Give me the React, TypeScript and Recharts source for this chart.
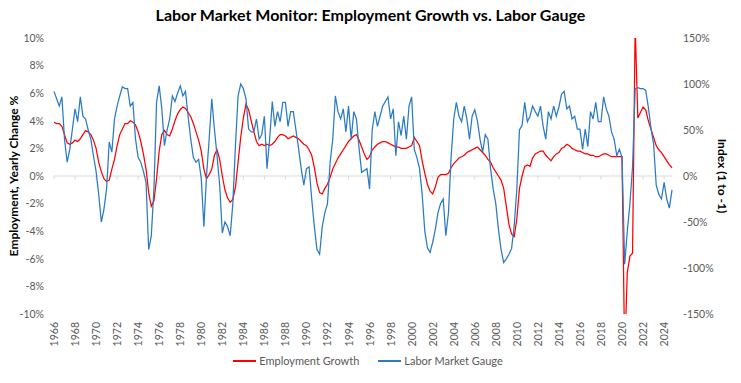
import { LineChart, Line, XAxis, YAxis, ReferenceLine } from 'recharts';

const FONT = 'Lato, "Open Sans", sans-serif';
const GRAY = '#595959';
const RED = '#ff0000';
const BLUE = '#2a7bc4';

const START_YEAR = 1966;
const yearTicks = [
  1966, 1968, 1970, 1972, 1974, 1976, 1978, 1980, 1982, 1984, 1986, 1988, 1990, 1992, 1994,
  1996, 1998, 2000, 2002, 2004, 2006, 2008, 2010, 2012, 2014, 2016, 2018, 2020, 2022, 2024,
];
const leftTicks = [-10, -8, -6, -4, -2, 0, 2, 4, 6, 8, 10];
const rightTicks = [-150, -100, -50, 0, 50, 100, 150];

// quarterly readings, 1966 Q1 .. 2024 Q4 — yearly % change in employment
const employmentGrowth = [
  3.9, 3.8, 3.8, 3.6, // 1966
  3.0, 2.4, 2.3, 2.4,
  2.6, 2.5, 2.7, 3.0,
  3.3, 3.2, 3.0, 2.6,
  2.0, 1.0, 0.3, -0.2, // 1970
  -0.4, -0.3, 0.5, 1.2,
  2.2, 3.0, 3.4, 3.8,
  3.8, 4.0, 3.9, 3.7,
  3.2, 2.5, 1.6, 0.5,
  -1.2, -2.2, -1.8, -0.2, // 1975
  1.8, 3.0, 3.3, 3.0,
  2.9, 3.4, 4.0, 4.5,
  4.8, 5.0, 4.9, 4.6,
  4.3, 3.8, 3.2, 2.6,
  1.8, 0.5, -0.2, 0.1, // 1980
  0.5, 1.5, 1.9, 1.2,
  0.0, -1.0, -1.6, -1.9,
  -1.7, -0.8, 1.0, 2.8,
  4.2, 5.2, 4.8, 4.0,
  3.2, 2.5, 2.2, 2.3, // 1985
  2.2, 2.3, 2.2, 2.3,
  2.5, 2.8, 3.0, 3.0,
  2.9, 2.7, 2.8, 2.9,
  2.8, 2.7, 2.5, 2.3,
  2.2, 1.9, 1.5, 0.6, // 1990
  -0.5, -1.2, -1.3, -0.9,
  -0.6, -0.1, 0.5, 0.9,
  1.3, 1.6, 1.9, 2.2,
  2.5, 2.7, 2.9, 3.0,
  2.6, 2.1, 1.6, 1.2, // 1995
  1.4, 1.9, 2.1, 2.3,
  2.4, 2.5, 2.5, 2.4,
  2.3, 2.2, 2.1, 2.1,
  2.0, 2.0, 2.0, 2.1,
  2.2, 2.8, 2.5, 2.2, // 2000
  1.1, 0.2, -0.6, -1.1,
  -1.3, -0.8, -0.1, 0.1,
  0.1, 0.1, 0.2, 0.6,
  0.9, 1.1, 1.3, 1.4,
  1.5, 1.7, 1.8, 1.9, // 2005
  2.0, 2.1, 1.9, 1.7,
  1.5, 1.2, 1.0, 0.6,
  0.3, 0.0, -0.3, -0.9,
  -2.2, -3.5, -4.2, -4.4,
  -3.1, -0.9, 0.0, 0.7, // 2010
  0.8, 0.7, 1.3, 1.6,
  1.7, 1.8, 1.8, 1.5,
  1.3, 1.1, 1.4, 1.6,
  1.7, 2.0, 2.1, 2.3,
  2.2, 2.0, 1.9, 1.8, // 2015
  1.8, 1.7, 1.6, 1.6,
  1.5, 1.5, 1.4, 1.4,
  1.5, 1.6, 1.6, 1.5,
  1.4, 1.4, 1.4, 1.4,
  1.4, -13.0, -7.0, -5.8, // 2020
  -5.6, 11.0, 4.2, 4.6,
  5.0, 4.8, 4.0, 3.4,
  2.8, 2.2, 1.9, 1.7,
  1.4, 1.1, 0.8, 0.6, // 2024
];

// quarterly readings of the labor market gauge, index in % (1 to -1)
const laborGauge = [
  92, 84, 76, 86, // 1966
  40, 15, 29, 51,
  73, 59, 86, 65,
  62, 50, 40, 22,
  5, -20, -50, -36, // 1970
  -14, 37, 26, 62,
  76, 87, 97, 95,
  95, 76, 80, 40,
  20, 15, 5, -7,
  -80, -65, -14, 80, // 1975
  98, 73, 33, 50,
  62, 87, 81, 90,
  98, 87, 92, 65,
  40, 20, 15, 18,
  -3, -55, 0, 40, // 1980
  84, 51, 22, -10,
  -62, -50, -55, -65,
  -30, 33, 87, 100,
  95, 84, 51, 48,
  48, 62, 40, 45, // 1985
  65, 8, 40, 81,
  54, 70, 59, 80,
  80, 54, 70, 70,
  50, 30, 8, -10,
  8, 10, -25, -55, // 1990
  -80, -85, -55, -40,
  -30, 15, 40, 87,
  70, 62, 73, 48,
  76, 40, 70, 62,
  30, 4, 6, 8, // 1995
  -14, 50, 70, 54,
  65, 76, 81, 86,
  62, 73, 22, 59,
  44, 65, 40, 76,
  86, 29, 20, 8, // 2000
  -20, -60, -78, -83,
  -72, -58, -40, -30,
  -25, -65, -40, 20,
  62, 80, 65, 59,
  76, 62, 40, 65, // 2005
  72, 60, 40, 26,
  45, 40, 8, -14,
  -30, -58, -80, -94,
  -90, -85, -79, -54,
  -14, 50, 55, 80, // 2010
  59, 65, 76, 70,
  65, 76, 54, 40,
  70, 62, 76, 65,
  75, 89, 92, 73,
  76, 62, 65, 51, // 2015
  51, 29, 51, 32,
  70, 62, 80, 59,
  59, 86, 73, 65,
  48, 40, 22, 29,
  20, -96, -60, -30, // 2020
  10, 95, 96, 95,
  95, 93, 75, 52,
  35, -10, -20, -25,
  -7, -25, -35, -15, // 2024
];

const legendItems = [
  { label: 'Employment Growth', color: RED },
  { label: 'Labor Market Gauge', color: BLUE },
];

const data = employmentGrowth.map((v, i) => ({
  t: START_YEAR + i / 4,
  growth: v,
  gauge: laborGauge[i],
}));

function YearTick({ x, y, payload }: any) {
  return (
    <text
      x={x}
      y={y}
      transform={`rotate(-90, ${x}, ${y})`}
      textAnchor="end"
      dominantBaseline="central"
      fontSize={10.5}
      fill={GRAY}
      fontFamily={FONT}
    >
      {payload.value}
    </text>
  );
}

function axisTitle(text: string, dx: number, angle: number) {
  return ({ viewBox }: any) => {
    const cx = viewBox.x + dx;
    const cy = viewBox.y + viewBox.height / 2;
    return (
      <text
        x={cx}
        y={cy}
        transform={`rotate(${angle}, ${cx}, ${cy})`}
        textAnchor="middle"
        dominantBaseline="central"
        fontSize={12}
        fontWeight={700}
        fill="#000"
        fontFamily={FONT}
      >
        {text}
      </text>
    );
  };
}

export default function App() {
  const tickStyle = { fontSize: 10.5, fill: GRAY, fontFamily: FONT };
  return (
    <div style={{ position: 'absolute', left: 0, top: 0, width: 741, height: 383, background: '#fff', fontFamily: FONT }}>
      <div
        style={{
          position: 'absolute', top: 5, left: 0, width: 741, textAlign: 'center',
          fontSize: 16, fontWeight: 700, color: '#000', lineHeight: '20px',
        }}
      >
        Labor Market Monitor: Employment Growth vs. Labor Gauge
      </div>

      <LineChart width={741} height={383} data={data} margin={{ top: 38, right: 0, bottom: 29, left: 0 }}>
        <XAxis
          dataKey="t"
          type="number"
          domain={[1966, 2024.75]}
          ticks={yearTicks}
          interval={0}
          height={40}
          axisLine={false}
          tickLine={false}
          tick={<YearTick />}
        />
        <YAxis
          yAxisId="left"
          domain={[-10, 10]}
          ticks={leftTicks}
          allowDataOverflow
          width={54}
          axisLine={false}
          tickLine={false}
          tickMargin={4}
          tick={tickStyle}
          tickFormatter={(v: number) => `${v}%`}
          label={axisTitle('Employment, Yearly Change %', 13, -90)}
        />
        <YAxis
          yAxisId="right"
          orientation="right"
          domain={[-150, 150]}
          ticks={rightTicks}
          allowDataOverflow
          width={69}
          axisLine={false}
          tickLine={false}
          tickMargin={5}
          tick={tickStyle}
          tickFormatter={(v: number) => `${v}%`}
          label={axisTitle('Index (1 to -1)', 50, 90)}
        />
        <ReferenceLine yAxisId="left" y={0} stroke="#d9d9d9" strokeWidth={1} />
        {yearTicks.map((yr) => (
          <ReferenceLine
            key={yr}
            yAxisId="left"
            segment={[{ x: yr, y: 0 }, { x: yr, y: -0.25 }]}
            stroke="#d9d9d9"
          />
        ))}
        <Line
          yAxisId="left"
          type="linear"
          dataKey="growth"
          stroke={RED}
          strokeWidth={1.25}
          dot={false}
          isAnimationActive={false}
        />
        <Line
          yAxisId="right"
          type="linear"
          dataKey="gauge"
          stroke={BLUE}
          strokeWidth={1.25}
          dot={false}
          isAnimationActive={false}
        />
      </LineChart>

      <div
        style={{
          position: 'absolute', top: 353, left: 0, width: 736, display: 'flex',
          justifyContent: 'center', gap: 19, fontSize: 11, color: GRAY, lineHeight: '16px',
        }}
      >
        {legendItems.map((item) => (
          <div key={item.label} style={{ display: 'flex', alignItems: 'center' }}>
            <span style={{ display: 'inline-block', width: 23, height: 2, background: item.color, marginRight: 3 }} />
            <span>{item.label}</span>
          </div>
        ))}
      </div>
    </div>
  );
}
